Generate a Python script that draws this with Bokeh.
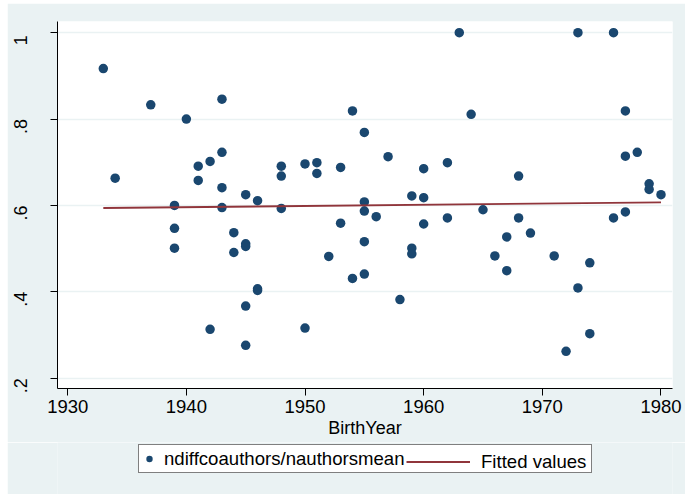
from bokeh.plotting import figure
from bokeh.layouts import column
from bokeh.models import Range1d, Legend, LegendItem
from bokeh.embed import file_html
from bokeh.resources import INLINE

# ---- data ----
birth_year = [1933, 1934, 1937, 1939, 1939, 1939, 1940, 1941, 1941, 1942, 1942,
              1943, 1943, 1943, 1943, 1944, 1944, 1945, 1945, 1945, 1945, 1945,
              1946, 1946, 1946, 1948, 1948, 1948, 1950, 1950, 1951, 1951, 1952,
              1953, 1953, 1954, 1954, 1955, 1955, 1955, 1955, 1955, 1956, 1957,
              1958, 1959, 1959, 1959, 1960, 1960, 1960, 1962, 1962, 1963, 1964,
              1965, 1966, 1967, 1967, 1968, 1968, 1969, 1971, 1972, 1973, 1973,
              1974, 1974, 1976, 1976, 1977, 1977, 1977, 1978, 1979, 1979, 1980]
ratio = [0.917, 0.663, 0.833, 0.600, 0.547, 0.501, 0.800, 0.691, 0.658, 0.702, 0.313,
         0.846, 0.723, 0.641, 0.595, 0.537, 0.491, 0.625, 0.511, 0.505, 0.367, 0.276,
         0.611, 0.407, 0.403, 0.691, 0.668, 0.593, 0.696, 0.316, 0.699, 0.674, 0.482,
         0.688, 0.559, 0.819, 0.431, 0.769, 0.608, 0.587, 0.516, 0.441, 0.574, 0.713,
         0.382, 0.622, 0.501, 0.488, 0.685, 0.618, 0.557, 0.699, 0.571, 1.000, 0.811,
         0.590, 0.483, 0.527, 0.449, 0.668, 0.571, 0.536, 0.483, 0.262, 1.000, 0.409,
         0.467, 0.303, 1.000, 0.571, 0.819, 0.714, 0.585, 0.723, 0.650, 0.637, 0.625]
fit_year = [1933, 1980]
fit_value = [0.594, 0.607]

x_ticks = [1930, 1940, 1950, 1960, 1970, 1980]
y_ticks = [0.2, 0.4, 0.6, 0.8, 1.0]
y_tick_labels = [".2", ".4", ".6", ".8", "1"]
series_label = "ndiffcoauthors/nauthorsmean"
fit_label = "Fitted values"

FONT = "Liberation Sans"
BG = "#EAF2F3"
NAVY = "#1A476F"
MAROON = "#90353B"
NBSP = "\u00a0"

p = figure(width=678, height=439, output_backend="svg", toolbar_location=None,
           x_range=Range1d(1929.14, 1980.97), y_range=Range1d(0.176, 1.026),
           min_border_left=50, min_border_right=13, min_border_top=18,
           min_border_bottom=54)
p.border_fill_color = BG
p.background_fill_color = "white"
p.outline_line_color = None

p.xgrid.visible = False
p.ygrid.grid_line_color = BG
p.ygrid.grid_line_width = 1.5

for ax in (p.xaxis, p.yaxis):
    ax.axis_line_color = "black"
    ax.axis_line_width = 1
    ax.major_tick_line_color = "black"
    ax.major_tick_in = 0
    ax.major_tick_out = 7
    ax.minor_tick_line_color = None
    ax.major_label_text_font = FONT
    ax.major_label_text_font_size = "18px"
    ax.major_label_text_color = "black"

p.xaxis.ticker = x_ticks
p.xaxis.major_label_text_font_size = "18.5px"
p.xaxis.major_label_standoff = 4
p.xaxis.axis_label = "BirthYear"
p.xaxis.axis_label_text_font = FONT
p.xaxis.axis_label_text_font_size = "18px"
p.xaxis.axis_label_text_font_style = "normal"
p.xaxis.axis_label_text_color = "black"
p.xaxis.axis_label_standoff = 2

p.yaxis.ticker = y_ticks
p.yaxis.major_label_overrides = {t: s + NBSP * 3 for t, s in zip(y_ticks, y_tick_labels)}
p.yaxis.major_label_orientation = "parallel"
p.yaxis.major_label_standoff = 19

p.scatter(birth_year, ratio, size=9.5, fill_color=NAVY, line_color=None)
p.line(fit_year, fit_value, line_color=MAROON, line_width=1.8)

# ---- legend strip (separate figure so the box is not clipped) ----
# the data lie outside this strip's ranges: only the legend swatches show
lf = figure(width=678, height=52, output_backend="svg", toolbar_location=None,
            x_range=Range1d(0, 1), y_range=Range1d(0, 1),
            x_axis_location=None, y_axis_location=None, min_border=0)
lf.border_fill_color = BG
lf.background_fill_color = BG
lf.outline_line_color = None
lf.grid.visible = False
l_pts = lf.scatter(birth_year, ratio, size=9.5, fill_color=NAVY, line_color=None)
l_fit = lf.line(fit_year, fit_value, line_color=MAROON, line_width=1.8)

leg1 = Legend(items=[LegendItem(label=series_label, renderers=[l_pts])],
              location=(81, 21), orientation="horizontal", padding=2, margin=0,
              spacing=0, glyph_width=16, glyph_height=23, label_standoff=7,
              label_width=425, label_height=23,
              border_line_color="black", border_line_width=1,
              background_fill_color="white", background_fill_alpha=1,
              label_text_font=FONT, label_text_font_size="18.6px",
              label_text_color="black")
leg2 = Legend(items=[LegendItem(label=fit_label, renderers=[l_fit])],
              location=(349, 21), orientation="horizontal", padding=2, margin=0,
              spacing=0, glyph_width=64, glyph_height=23, label_standoff=11,
              label_height=23,
              border_line_color=None, background_fill_alpha=0,
              label_text_font=FONT, label_text_font_size="18.6px",
              label_text_color="black")
lf.add_layout(leg1)
lf.add_layout(leg2)

layout = column(p, lf, spacing=0, margin=(3, 0, 0, 7))
open("out.html", "w").write(file_html(layout, INLINE))
